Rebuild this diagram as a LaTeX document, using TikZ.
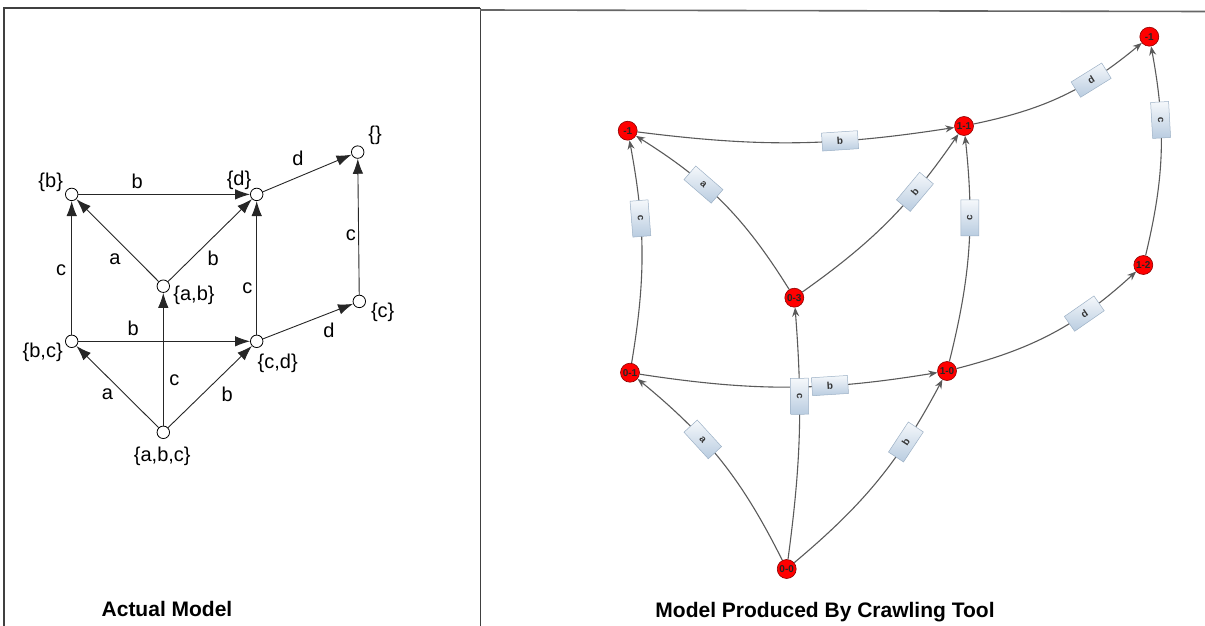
\documentclass[tikz,border=0pt]{standalone}
\usepackage{fontspec}
\setmainfont{Liberation Sans}
\usetikzlibrary{arrows.meta,shadings}
\definecolor{boxtop}{HTML}{F5F8FB}
\definecolor{boxbot}{HTML}{B9CCE0}
\definecolor{boxline}{HTML}{9DB1C6}
\definecolor{edgegray}{HTML}{5A5A5A}
\definecolor{nodered}{HTML}{FF0000}
\tikzset{
 lstate/.style={circle,draw=black,fill=white,line width=0.8pt,minimum size=12.5pt,inner sep=0pt},
 ltext/.style={font=\fontsize{20}{22}\selectfont,inner sep=0pt},
 larr/.style={-{Latex[length=15pt,width=10.5pt]},line width=0.9pt,draw=black!85},
 rstate/.style={circle,draw=red!55!black,fill=nodered,line width=0.6pt,minimum size=19pt,inner sep=0pt,font=\fontsize{10}{10}\selectfont\bfseries,text=black!85},
 rarr/.style={-{Stealth[length=9pt,width=7pt]},line width=1.1pt,draw=edgegray},
 rlab/.style={sloped,pos=0.65,draw=boxline,line width=0.5pt,top color=boxtop,bottom color=boxbot,minimum width=36pt,minimum height=18pt,inner sep=0pt,font=\fontsize{10}{10}\selectfont\bfseries,text=black!80},
 titletext/.style={font=\fontsize{21}{24}\selectfont\bfseries,inner sep=0pt},
 frameline/.style={line width=1.3pt,draw=black!75},
}
\begin{document}
\begin{tikzpicture}[x=1pt,y=1pt]
\path[use as bounding box] (0,0) rectangle (1205,-626);
% frame
\coordinate (f1) at (4,-626);
\coordinate (f2) at (4,-8);
\coordinate (f3) at (480,-8);
\coordinate (f4) at (480,-626);
\coordinate (f5) at (480,-10);
\coordinate (f6) at (1205,-11.5);
\draw[frameline] (f1) -- (f2) -- (f3);
\draw[frameline,line width=1pt] (f3) -- (f4);
\draw[frameline,line width=1.6pt,draw=black!60] (f5) -- (f6);

% ---------- left: actual model ----------
\node[lstate] (sb) at (71.7,-194.4) {};
\node[lstate] (sd) at (256.7,-194.4) {};
\node[lstate] (se) at (357.7,-152.1) {};
\node[lstate] (sab) at (163.3,-286.2) {};
\node[lstate] (sc) at (359.3,-301.4) {};
\node[lstate] (sbc) at (71.7,-341.3) {};
\node[lstate] (scd) at (256.7,-341.3) {};
\node[lstate] (sabc) at (163.3,-432.3) {};

\node[ltext] (tb) at (50.7,-182.4) {\{b\}};
\node[ltext] (td) at (239,-180.4) {\{d\}};
\node[ltext] (te) at (375,-135.7) {\{\}};
\node[ltext] (tab) at (194,-295.4) {\{a,b\}};
\node[ltext] (tc) at (382.7,-312.6) {\{c\}};
\node[ltext] (tbc) at (42.7,-352.5) {\{b,c\}};
\node[ltext] (tcd) at (277.7,-363.3) {\{c,d\}};
\node[ltext] (tabc) at (162.3,-455.9) {\{a,b,c\}};

\draw[larr] (sb) -- node[ltext,pos=0.342,yshift=12.8pt]{b} (sd);
\draw[larr] (sd) -- node[ltext,pos=0.396,yshift=19pt]{d} (se);
\draw[larr] (sab) -- node[ltext,pos=0.40,xshift=-10.9pt,yshift=-10.9pt]{a} (sb);
\draw[larr] (sab) -- node[ltext,pos=0.414,xshift=10.3pt,yshift=-10.5pt]{b} (sd);
\draw[larr] (sbc) -- node[ltext,pos=0.483,xshift=-10.7pt]{c} (sb);
\draw[larr] (scd) -- node[ltext,pos=0.348,xshift=-9.4pt]{c} (sd);
\draw[larr] (sc) -- node[ltext,pos=0.436,xshift=-7.6pt]{c} (se);
\draw[larr] (sbc) -- node[ltext,pos=0.32,yshift=12.8pt]{b} (scd);
\draw[larr] (scd) -- node[ltext,pos=0.669,xshift=5.7pt,yshift=-14.7pt]{d} (sc);
\draw[larr] (sabc) -- node[ltext,pos=0.515,xshift=-8.8pt,yshift=-9pt]{a} (sbc);
\draw[larr] (sabc) -- node[ltext,pos=0.342,xshift=11pt]{c} (sab);
\draw[larr] (sabc) -- node[ltext,pos=0.559,xshift=12.2pt,yshift=-12.6pt]{b} (scd);

\node[titletext] (t1) at (167,-609) {Actual Model};

% ---------- right: crawled model ----------
\node[rstate] (r00) at (786.7,-569) {0-0};
\node[rstate] (r01) at (630,-372.7) {0-1};
\node[rstate] (r03) at (794.3,-297.7) {0-3};
\node[rstate] (rtl) at (627.7,-130.7) {-1};
\node[rstate] (r11) at (964,-126) {1-1};
\node[rstate] (r10) at (947,-371) {1-0};
\node[rstate] (r12) at (1143.3,-265) {1-2};
\node[rstate] (rtr) at (1149.3,-36.7) {-1};

\draw[rarr] (r00) to[bend right=12] node[rlab,pos=0.63]{a} (r01);
\draw[rarr] (r00) to[bend right=11] node[rlab,pos=0.71]{b} (r10);
\draw[rarr] (r01) to[bend right=9] node[rlab]{b} (r10);
\draw[rarr] (r00) to[bend right=6] node[rlab,pos=0.66]{c} (r03);
\draw[rarr] (r01) to[bend right=10] node[rlab,pos=0.66]{c} (rtl);
\draw[rarr] (r03) to[bend right=13] node[rlab,pos=0.63]{a} (rtl);
\draw[rarr] (r03) to[bend right=10] node[rlab,pos=0.69]{b} (r11);
\draw[rarr] (rtl) to[bend right=8] node[rlab,pos=0.65]{b} (r11);
\draw[rarr] (r10) to[bend right=10] node[rlab,pos=0.65]{c} (r11);
\draw[rarr] (r10) to[bend right=14] node[rlab,pos=0.69]{d} (r12);
\draw[rarr] (r12) to[bend right=12] node[rlab,pos=0.66]{c} (rtr);
\draw[rarr] (r11) to[bend right=14] node[rlab,pos=0.68]{d} (rtr);

\node[titletext] (t2) at (825,-612) {Model Produced By Crawling Tool};
\end{tikzpicture}
\end{document}
